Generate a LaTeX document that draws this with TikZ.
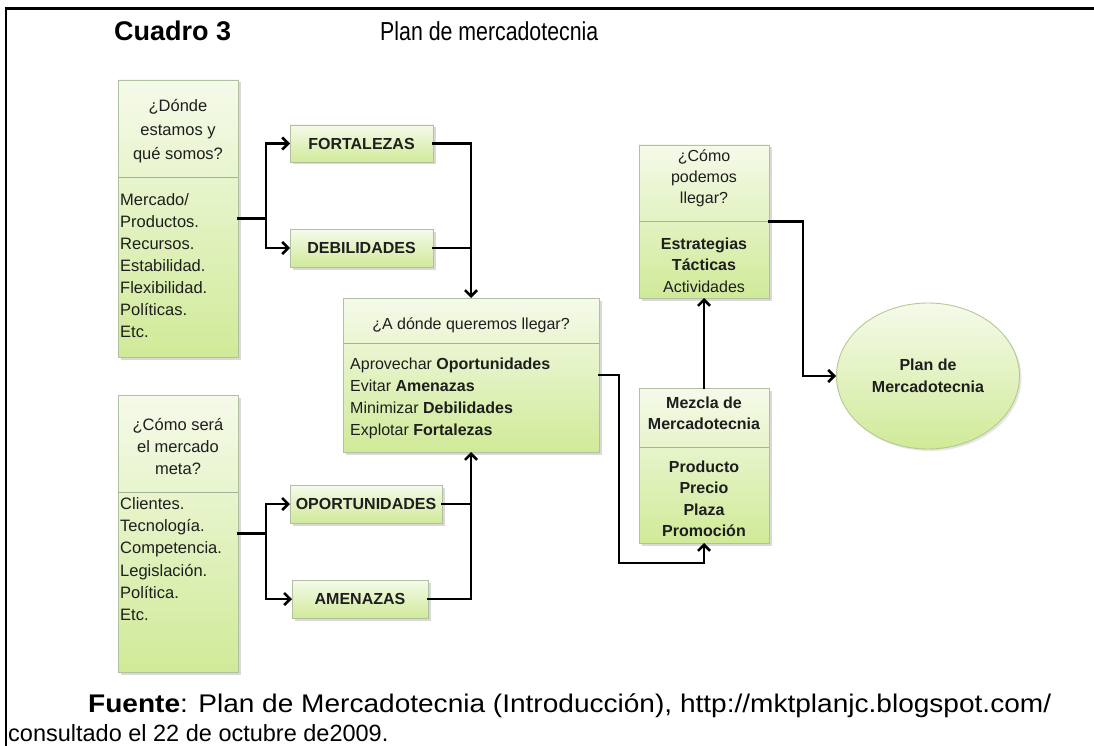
\documentclass[tikz,border=0pt]{standalone}
\usepackage{fontspec}
\setmainfont{Liberation Sans}
\usetikzlibrary{arrows.meta,shadows,shapes.geometric,calc}

\definecolor{paneltop}{HTML}{F5FAEA}
\definecolor{panelbot}{HTML}{D0EA98}
\definecolor{panelline}{HTML}{B2C0A2}
\definecolor{ovalline}{HTML}{B6C98E}
\definecolor{divline}{HTML}{A3B39B}
\definecolor{ink}{HTML}{1E1E1E}

\begin{document}
\begin{tikzpicture}[x=1pt,y=-1pt,
  panel/.style={rectangle, draw=panelline, line width=0.9pt,
    top color=paneltop, bottom color=panelbot,
    drop shadow={shadow xshift=2.5pt, shadow yshift=-2.5pt, opacity=0.3},
    inner sep=0pt, outer sep=0pt, anchor=north west},
  tagbox/.style={panel, text=ink, font=\bfseries\fontsize{16}{19}\selectfont},
  body/.style={inner sep=0pt, text=ink, font=\fontsize{16}{22}\selectfont},
  divider/.style={draw=divline, line width=0.9pt},
  link/.style={line width=2.6pt, black, line cap=rect},
  arr/.style={link, -{Straight Barb[length=6pt,width=12pt]}},
  frame/.style={line width=2.5pt, black}
]
\useasboundingbox (0,0) rectangle (1094,746);

% table frame (top and left rules)
\draw[frame] (5,8.5) -- (1094,8.5);
\draw[frame] (6,7.25) -- (6,746);

% heading
\node[anchor=west, inner sep=0pt, font=\bfseries\fontsize{27}{32}\selectfont] (cuadro) at (114,31) {Cuadro 3};
\node[anchor=west, inner sep=0pt, font=\fontsize{26}{31}\selectfont] (titulo) at (380,31) {\scalebox{0.82}[1]{Plan de mercadotecnia}};

% ---- left column: situation analysis
\node[panel, minimum width=120pt, minimum height=277pt] (A) at (118,80) {};
\draw[divider] ([yshift=-97pt]A.north west) -- ([yshift=-97pt]A.north east);
\node[body, align=center, font=\fontsize{16.5}{24}\selectfont] (Atit) at (178,131) {¿Dónde\\estamos y\\qué somos?};
\node[body, align=left, anchor=west, font=\fontsize{16.5}{22}\selectfont] (Abody) at (120,266) {Mercado/\\Productos.\\Recursos.\\Estabilidad.\\Flexibilidad.\\Políticas.\\Etc.};

\node[panel, minimum width=120pt, minimum height=277pt] (B) at (118,395) {};
\draw[divider] ([yshift=-97pt]B.north west) -- ([yshift=-97pt]B.north east);
\node[body, align=center, font=\fontsize{16.5}{22}\selectfont] (Btit) at (178,447) {¿Cómo será\\el mercado\\meta?};
\node[body, align=left, anchor=west, font=\fontsize{16.5}{22.2}\selectfont] (Bbody) at (120,559) {Clientes.\\Tecnología.\\Competencia.\\Legislación.\\Política.\\Etc.};

% ---- SWOT tags
\node[tagbox, minimum width=143pt, minimum height=37pt] (F) at (290,125) {FORTALEZAS};
\node[tagbox, minimum width=143pt, minimum height=38pt] (Db) at (290,229) {DEBILIDADES};
\node[tagbox, minimum width=152pt, minimum height=38pt] (O) at (290,485) {OPORTUNIDADES};
\node[tagbox, minimum width=136pt, minimum height=38pt] (Am) at (292,580) {AMENAZAS};

% ---- central objective panel
\node[panel, minimum width=256pt, minimum height=154pt] (C) at (343,298) {};
\draw[divider] ([yshift=-45pt]C.north west) -- ([yshift=-45pt]C.north east);
\node[body] (Ctit) at (471,325) {¿A dónde queremos llegar?};
\node[body, align=left, anchor=west] (Cbody) at (350,398) {Aprovechar \textbf{Oportunidades}\\Evitar \textbf{Amenazas}\\Minimizar \textbf{Debilidades}\\Explotar \textbf{Fortalezas}};

% ---- how to get there
\node[panel, minimum width=130pt, minimum height=153pt] (D) at (639,145) {};
\draw[divider] ([yshift=-76pt]D.north west) -- ([yshift=-76pt]D.north east);
\node[body, align=center, font=\fontsize{16}{21}\selectfont] (Dtit) at (704,178) {¿Cómo\\podemos\\llegar?};
\node[body, align=center, font=\fontsize{16}{21.5}\selectfont] (Dbody) at (704,265) {\textbf{Estrategias}\\\textbf{Tácticas}\\Actividades};

% ---- marketing mix
\node[panel, minimum width=130pt, minimum height=155pt] (E) at (639,388) {};
\draw[divider] ([yshift=-59pt]E.north west) -- ([yshift=-59pt]E.north east);
\node[body, align=center, font=\bfseries\fontsize{16}{21}\selectfont] (Etit) at (704,413) {Mezcla de\\Mercadotecnia};
\node[body, align=center, font=\bfseries\fontsize{16}{21.5}\selectfont] (Ebody) at (704,499) {Producto\\Precio\\Plaza\\Promoción};

% ---- final plan
\node[ellipse, draw=ovalline, line width=0.9pt, top color=paneltop, bottom color=panelbot,
  drop shadow={shadow xshift=2pt, shadow yshift=-2pt, opacity=0.2},
  minimum width=183pt, minimum height=146pt, inner sep=0pt,
  align=center, text=ink, font=\bfseries\fontsize{16}{22}\selectfont] (P) at (928,376) {Plan de\\Mercadotecnia};

% ---- connectors
\coordinate (jA) at ($(A.east)+(28,0)$);
\coordinate (jB) at ($(B.east)+(28,0)$);
\draw[arr] (A.east) -- (jA) |- (F.west);
\draw[arr] (jA) |- (Db.west);
\draw[arr] (B.east) -- (jB) |- (O.west);
\draw[arr] (jB) |- (Am.west);

\draw[arr] (F.east) -| (C.north);
\draw[link] (Db.east) -| ([yshift=8pt]C.north);
\draw[arr] (Am.east) -| (C.south);
\draw[link] (O.east) -| ([yshift=-8pt]C.south);

\coordinate (kC) at (619,563);
\draw[arr] (C.east) -| (kC) -| (E.south);
\draw[arr] (E.north) -- (D.south);
\coordinate (kD) at (803,376);
\draw[arr] (D.east) -| (kD) -- (P.west);

% source note
\node[anchor=west, inner sep=0pt, font=\fontsize{25.5}{30}\selectfont] (fuente) at (88,706) {\scalebox{1.1}[1]{\textbf{Fuente}: Plan de Mercadotecnia (Introducción), http://mktplanjc.blogspot.com/}};
\node[anchor=west, inner sep=0pt, font=\fontsize{23.5}{28}\selectfont] (consulta) at (8,733) {consultado el 22 de octubre de2009.};
\end{tikzpicture}
\end{document}
